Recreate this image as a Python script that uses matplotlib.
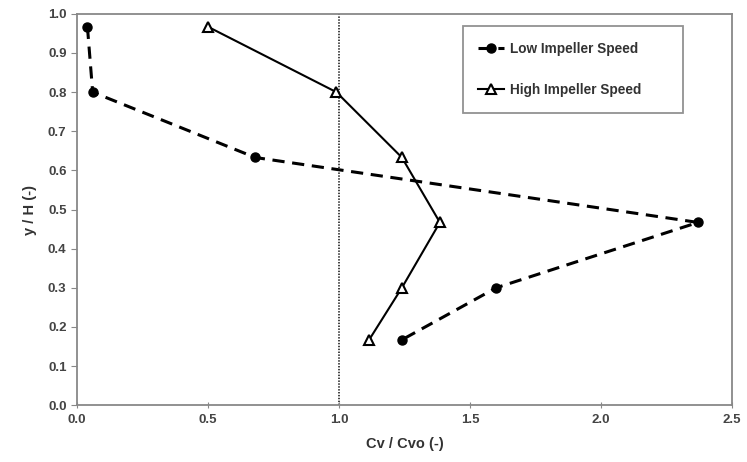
import matplotlib
matplotlib.use("Agg")
import matplotlib.pyplot as plt

plt.rcParams['font.family'] = ['Liberation Sans', 'DejaVu Sans']

y_levels = [0.967, 0.800, 0.633, 0.467, 0.300, 0.167]
low_speed = [0.04, 0.06, 0.68, 2.37, 1.60, 1.24]
high_speed = [0.50, 0.99, 1.24, 1.385, 1.24, 1.115]
x_ticks = [0.0, 0.5, 1.0, 1.5, 2.0, 2.5]
y_ticks = [0.0, 0.1, 0.2, 0.3, 0.4, 0.5, 0.6, 0.7, 0.8, 0.9, 1.0]
ref_line = 1.0

fig = plt.figure(figsize=(7.47, 4.62), dpi=100)
ax = fig.add_axes([0.103, 0.123, 0.877, 0.847])

ax.axvline(ref_line, color='#333333', linestyle=(0, (0.8, 0.8)), linewidth=1.3, zorder=1)
ax.plot(low_speed, y_levels, color='black', linestyle=(0, (4, 2.5)), linewidth=2.2,
        marker='o', markersize=6.5, label='Low Impeller Speed', zorder=3)
ax.plot(high_speed, y_levels, color='black', linestyle='-', linewidth=1.5,
        marker='^', markersize=7, markerfacecolor='white', markeredgewidth=1.5,
        label='High Impeller Speed', zorder=3)

ax.set_xlim(0, 2.5)
ax.set_ylim(0, 1.0)
ax.set_xticks(x_ticks)
ax.set_yticks(y_ticks)
ax.set_xticklabels([f"{v:.1f}" for v in x_ticks], fontsize=9.5, fontweight='bold', color='#444444')
ax.set_yticklabels([f"{v:.1f}" for v in y_ticks], fontsize=9.5, fontweight='bold', color='#444444')
ax.tick_params(axis='x', direction='inout', length=5, color='#888888')
ax.tick_params(axis='y', direction='out', length=4, color='#888888')
for s in ax.spines.values():
    s.set_color('#888888')
    s.set_linewidth(1.3)

ax.set_xlabel('Cv / Cvo (-)', fontsize=10.5, fontweight='bold', color='#333333', labelpad=8)
ax.set_ylabel('y / H (-)', fontsize=10.5, fontweight='bold', color='#333333', labelpad=8)

leg = ax.legend(loc='upper left', bbox_to_anchor=(0.589, 0.752, 0.336, 0.217), mode='expand',
                borderaxespad=0, frameon=True, fancybox=False, handlelength=1.9, handletextpad=0.4,
                borderpad=1.15, labelspacing=2.0, prop={'weight': 'bold', 'size': 9.8})
leg.get_frame().set_edgecolor('#777777')
leg.get_frame().set_linewidth(1.3)
for t in leg.get_texts():
    t.set_color('#333333')

fig.savefig('out.png', dpi=100)
